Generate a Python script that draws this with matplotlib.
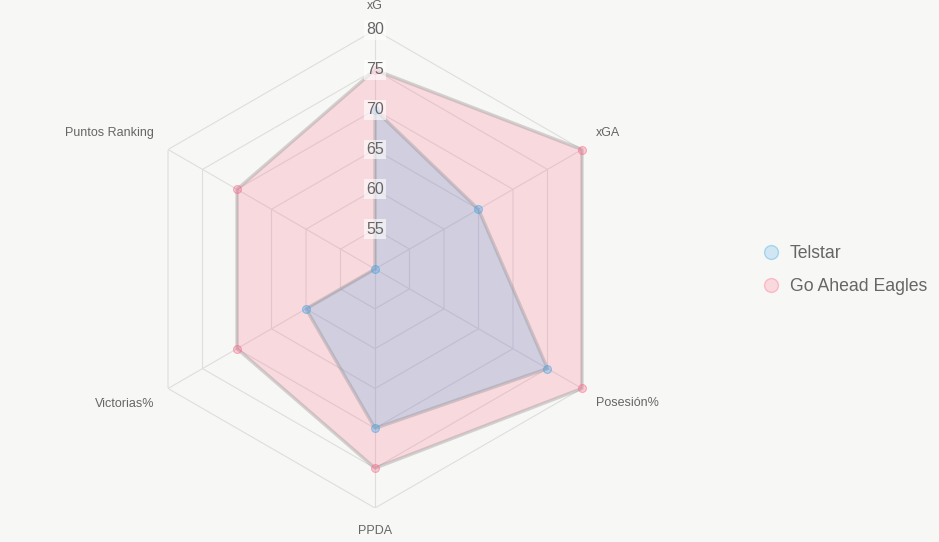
import numpy as np
import matplotlib.pyplot as plt
from matplotlib.lines import Line2D

plt.rcParams['font.family'] = ['Liberation Sans', 'DejaVu Sans']

categories = ['xG', 'xGA', 'Posesión%', 'PPDA', 'Victorias%', 'Puntos Ranking']
telstar = [70, 65, 75, 70, 60, 50]
gae = [75, 80, 80, 75, 70, 70]
ticks = [55, 60, 65, 70, 75, 80]
r_min, r_max = 50, 80

BG = '#f7f7f5'
GRID = '#dedede'
TXT = '#666666'

fig = plt.figure(figsize=(9.39, 5.42), dpi=100, facecolor=BG)
ax = fig.add_axes([136 / 939, 34 / 542, 478 / 939, 478 / 542], projection='polar')
ax.set_facecolor(BG)
ax.set_theta_offset(np.pi / 2)
ax.set_theta_direction(-1)
ax.set_ylim(r_min, r_max)
ax.grid(False)
ax.spines['polar'].set_visible(False)
ax.set_xticks([])
ax.set_yticks([])

n = len(categories)
angles = np.linspace(0, 2 * np.pi, n, endpoint=False)
closed = np.append(angles, angles[0])

# hexagon grid + spokes
for t in ticks:
    ax.plot(closed, [t] * (n + 1), color=GRID, lw=0.8, zorder=1)
for a in angles:
    ax.plot([a, a], [r_min, r_max], color=GRID, lw=0.8, zorder=1)

series = [
    ('Go Ahead Eagles', gae, (1.0, 0.388, 0.518)),
    ('Telstar', telstar, (0.212, 0.635, 0.922)),
]
for name, vals, col in series:
    v = np.append(vals, vals[0])
    ax.fill(closed, v, color=col, alpha=0.2, lw=0, zorder=2)
    ax.plot(closed, v, color=(0.55, 0.55, 0.55, 0.35), lw=2.4, zorder=3, clip_on=False)
    ax.scatter(angles, vals, s=32, color=(*col, 0.3), edgecolors=(*col, 0.5),
               linewidths=0.8, zorder=4, clip_on=False)

# radial tick labels
for t in ticks:
    ax.text(0, t, str(t), ha='center', va='center', fontsize=11.5, color=TXT,
            zorder=5, bbox=dict(boxstyle='square,pad=0.15', fc='white', ec='none', alpha=0.6))

# point labels
offsets = [(0, 24, 'center'), (14, 17, 'left'), (14, -15, 'left'),
           (0, -23, 'center'), (-14, -15, 'right'), (-14, 17, 'right')]
for a, lab, (dx, dy, ha) in zip(angles, categories, offsets):
    ax.annotate(lab, xy=(a, r_max), xytext=(dx, dy), textcoords='offset pixels',
                ha=ha, va='center', fontsize=9, color=TXT, annotation_clip=False)

handles = [
    Line2D([], [], ls='none', marker='o', markersize=10,
           markerfacecolor=(0.212, 0.635, 0.922, 0.2), markeredgecolor=(0.212, 0.635, 0.922, 0.35)),
    Line2D([], [], ls='none', marker='o', markersize=10,
           markerfacecolor=(1.0, 0.388, 0.518, 0.2), markeredgecolor=(1.0, 0.388, 0.518, 0.35)),
]
leg = fig.legend(handles, ['Telstar', 'Go Ahead Eagles'], loc='center left',
                 bbox_to_anchor=(745 / 939, 1 - 270 / 542), frameon=False,
                 fontsize=12.7, labelcolor=TXT, handletextpad=0.45, labelspacing=0.9,
                 handlelength=1.2)

fig.savefig('out.png', dpi=100, facecolor=BG)
